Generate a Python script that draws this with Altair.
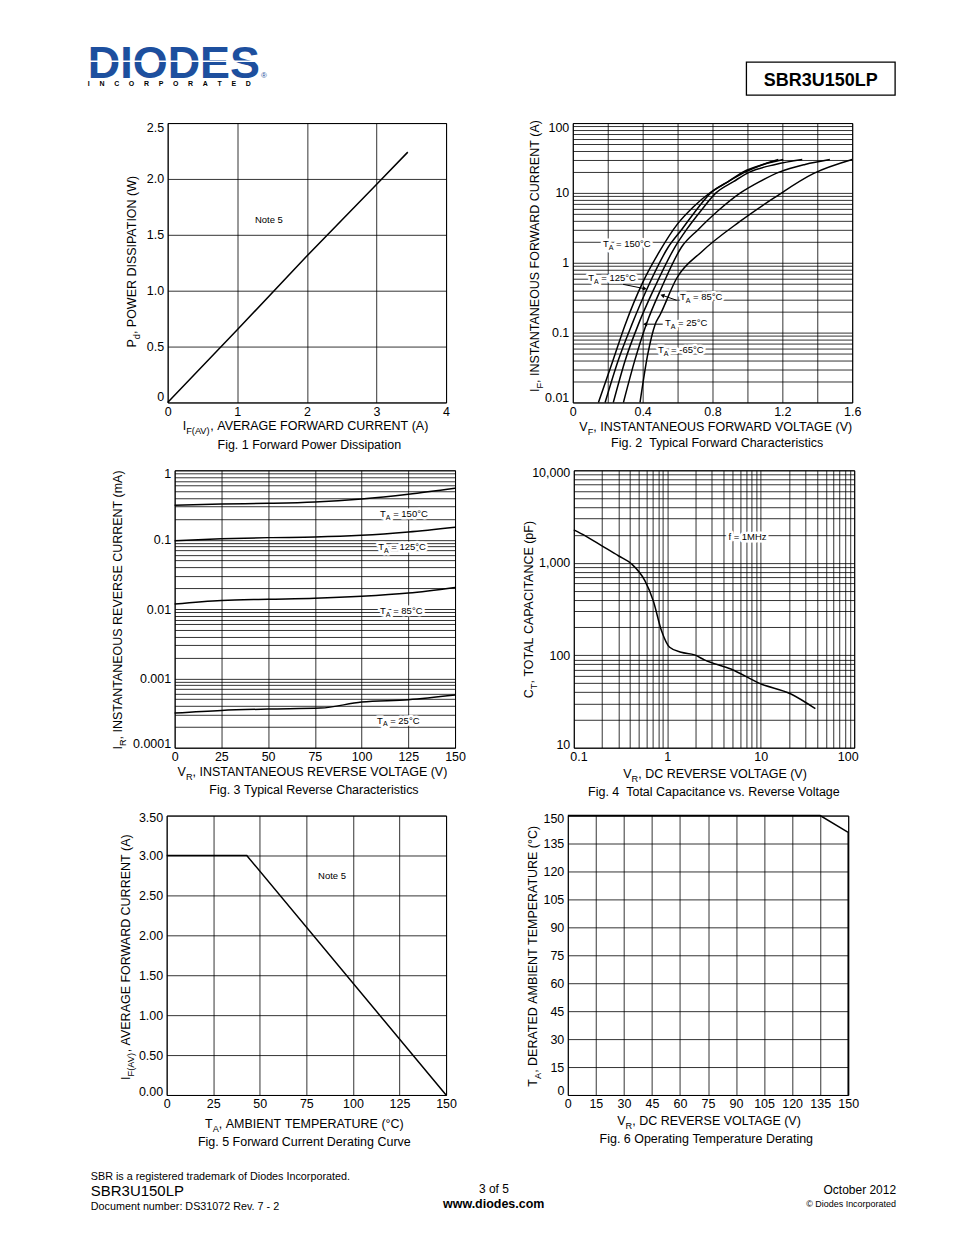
import math
import altair as alt
import pandas as pd

FONT = "Liberation Sans"
TXT = 12.5   # tick labels, axis titles, captions
ANN = 9.5    # in-plot annotations

# ---------------- Fig. 1 : forward power dissipation ----------------
F1_I = [0.0, 1.0, 2.0, 3.0, 3.45]
F1_P = [0.0, 0.65, 1.31, 1.95, 2.24]

# ---------------- Fig. 2 : typical forward characteristics ----------------
F2_V150 = [0.147, 0.23, 0.30, 0.40, 0.50, 0.60, 0.69, 0.78, 0.88, 0.98, 1.09, 1.177]
F2_I150 = [0.01, 0.04, 0.13, 0.52, 1.5, 3.6, 6.3, 9.8, 14, 19.5, 25.5, 30]
F2_V125 = [0.185, 0.26, 0.338, 0.43, 0.547, 0.624, 0.71, 0.79, 0.89, 0.976, 1.09, 1.205]
F2_I125 = [0.01, 0.04, 0.13, 0.45, 1.68, 3.0, 5.8, 10, 14.5, 20, 25.5, 30]
F2_V85 = [0.232, 0.30, 0.375, 0.47, 0.585, 0.652, 0.735, 0.82, 0.92, 1.015, 1.16, 1.314]
F2_I85 = [0.01, 0.04, 0.13, 0.45, 1.68, 3.0, 5.6, 10, 14.5, 20, 25.5, 30]
F2_V25 = [0.29, 0.355, 0.42, 0.51, 0.623, 0.719, 0.83, 0.96, 1.07, 1.186, 1.33, 1.472]
F2_I25 = [0.01, 0.04, 0.13, 0.45, 1.68, 3.0, 5.5, 10, 14.5, 20, 25.5, 30]
F2_VM65 = [0.385, 0.43, 0.471, 0.50, 0.595, 0.74, 0.957, 1.15, 1.38, 1.6]
F2_IM65 = [0.01, 0.05, 0.13, 0.18, 0.6, 1.45, 3.9, 8.4, 19, 30]
F2_LAB_TXT = ["150°C", "125°C", "85°C", "25°C", "-65°C"]
F2_LAB_V = [0.173, 0.088, 0.614, 0.528, 0.488]
F2_LAB_I = [1.85, 0.604, 0.324, 0.138, 0.0566]
F2_ARR_V0 = [0.288, 0.595, 0.515]
F2_ARR_I0 = [0.491, 0.290, 0.132]
F2_ARR_V1 = [0.412, 0.513, 0.414]
F2_ARR_I1 = [0.425, 0.342, 0.132]

# ---------------- Fig. 3 : typical reverse characteristics ----------------
F3_VR = [0, 25, 50, 75, 100, 125, 150]
F3_I150 = [0.313, 0.327, 0.334, 0.349, 0.386, 0.451, 0.55]
F3_I125 = [0.0968, 0.103, 0.107, 0.109, 0.1154, 0.129, 0.151]
F3_I85 = [0.0118, 0.0133, 0.0138, 0.01425, 0.01524, 0.017, 0.0205]
F3_VR25 = [0, 25, 50, 78, 100, 125, 150]
F3_I25 = [0.000316, 0.000345, 0.000361, 0.000373, 0.000456, 0.000492, 0.000575]
F3_LAB_TXT = ["150°C", "125°C", "85°C", "25°C"]
F3_LAB_X = [109.9, 108.9, 109.9, 108.3]
F3_LAB_I = [0.2366, 0.0793, 0.0095, 0.000249]

# ---------------- Fig. 4 : total capacitance ----------------
F4_V = [0.1, 0.133, 0.2, 0.3, 0.416, 0.576, 0.708, 0.868, 1.06, 1.41, 1.96, 2.5, 4.8, 10, 20.8, 38.4]
F4_C = [2270, 1955, 1524, 1191, 969, 640, 389, 184, 122, 107.6, 101, 89, 71, 49, 38.3, 26.4]

# ---------------- Fig. 5 : forward current derating ----------------
F5_T = [0, 43, 150]
F5_I = [3.0, 3.0, 0.0]

# ---------------- Fig. 6 : operating temperature derating ----------------
F6_V = [0, 135, 150, 150]
F6_T = [150, 150, 141, 0]

# ---------------- font metrics (Arial / Liberation Sans) ----------------
REG = {' ': 278, '\u00a0': 278, '(': 333, ')': 333, ',': 278, '-': 333, '.': 278,
       ':': 278, '=': 584, '°': 400, '©': 737, '®': 737}
for _d in "0123456789":
    REG[_d] = 556
REG.update(dict(zip("ABCDEFGHIJKLMNOPQRSTUVWXYZ",
                    [667, 667, 722, 722, 667, 611, 778, 722, 278, 500, 667, 556, 833,
                     722, 778, 667, 778, 722, 667, 611, 722, 667, 944, 667, 667, 611])))
REG.update(dict(zip("abcdefghijklmnopqrstuvwxyz",
                    [556, 556, 500, 556, 556, 278, 556, 556, 222, 222, 500, 222, 833,
                     556, 556, 556, 556, 333, 500, 278, 556, 500, 722, 500, 500, 500])))
BOLD = dict(REG)
BOLD[':'] = 333
BOLD.update(dict(zip("ABCDEFGHIJKLMNOPQRSTUVWXYZ",
                     [722, 722, 722, 722, 667, 611, 778, 722, 278, 556, 722, 611, 833,
                      722, 778, 667, 778, 722, 667, 611, 722, 667, 944, 667, 667, 611])))
BOLD.update(dict(zip("abcdefghijklmnopqrstuvwxyz",
                     [556, 611, 556, 611, 556, 333, 611, 611, 278, 278, 556, 278, 889,
                      611, 611, 611, 611, 389, 556, 333, 611, 556, 778, 556, 556, 500])))


def tw(s, size, bold=False):
    tab = BOLD if bold else REG
    return sum(tab.get(c, 556) for c in s) * size / 1000.0


def parse(s):
    out, buf, i = [], "", 0
    while i < len(s):
        if s.startswith("_{", i):
            if buf:
                out.append((buf, "n"))
                buf = ""
            j = s.index("}", i)
            out.append((s[i + 2:j], "s"))
            i = j + 1
        else:
            buf += s[i]
            i += 1
    if buf:
        out.append((buf, "n"))
    return [(t.replace(" ", "\u00a0"), k) for t, k in out]


ONE = pd.DataFrame({"k": [0]})


def rich(text, enc, data=None, size=TXT, angle=0, anchor="middle", halo=False,
         bold=False, color="black", font=FONT):
    src = ONE if data is None else data
    segs = parse(text)
    sub_size = round(size * 0.74, 2)
    shift = round(size * 0.3, 2)
    base_dy = 0.358 * size
    parts = []
    for t, kind in segs:
        s = sub_size if kind == "s" else size
        parts.append((t, s, base_dy + (shift if kind == "s" else 0.0), tw(t, s, bold)))
    total = sum(p[3] for p in parts)
    cur = {"middle": -total / 2.0, "start": 0.0, "end": -total}[anchor]
    halos, texts = [], []
    for t, s, dy, w in parts:
        vis = t.lstrip("\u00a0")
        lead = tw(t[:len(t) - len(vis)], s, bold)
        vis = vis.rstrip("\u00a0")
        if vis:
            kw = dict(text=vis, fontSize=s, font=font, align="left", baseline="alphabetic",
                      dx=round(cur + lead, 2), dy=round(dy, 2))
            if angle:
                kw["angle"] = angle
            if bold:
                kw["fontWeight"] = "bold"
            if halo:
                halos.append(alt.Chart(src).mark_text(color="white", stroke="white", strokeWidth=5,
                                                      strokeJoin="round", **kw).encode(**enc))
            texts.append(alt.Chart(src).mark_text(color=color, **kw).encode(**enc))
        cur += w
    return halos + texts


def lab_expr(pairs):
    expr = "''"
    for v, t in reversed(pairs):
        if v == 0:
            cond = "abs(datum.value) < 1e-9"
        else:
            cond = f"abs(datum.value / {v!r} - 1) < 1e-6"
        expr = f"({cond}) ? '{t}' : ({expr})"
    return expr


def ax(values, labels, orient, flush=None):
    kw = {}
    if flush is None:
        kw["labelFlush"] = False
    else:
        kw["labelFlush"] = True
        kw["labelFlushOffset"] = flush
    return alt.Axis(values=values, labelExpr=lab_expr(labels), grid=True, gridColor="black",
                    gridWidth=0.8, gridOpacity=1, ticks=False, domain=False, title=None,
                    labelFont=FONT, labelFontSize=TXT, labelColor="black",
                    labelPadding=4 if orient == "y" else 3, labelOverlap=False, **kw)


def log_vals(lo, hi):
    vals = []
    for e in range(lo, hi):
        for m in range(1, 10):
            vals.append(float(f"{m}e{e}"))
    vals.append(float(f"1e{hi}"))
    return vals


def pe(px, py, ox, oy):
    return dict(x=alt.value(round(px - ox, 2)), y=alt.value(round(py - oy, 2)))


class Frame:
    """scales + axes of one panel, shared by every layer that uses data coordinates"""
    def __init__(self, sx, sy, axx, axy):
        self.sx, self.sy, self.axx, self.axy = sx, sy, axx, axy

    def enc(self, xf="x", yf="y"):
        return dict(x=alt.X(f"{xf}:Q", scale=self.sx, axis=self.axx),
                    y=alt.Y(f"{yf}:Q", scale=self.sy, axis=self.axy))


def pt(x, y):
    return pd.DataFrame({"x": [x], "y": [y]})


def curves(series, fr, interp):
    rows = []
    for name, xs, ys in series:
        for i, (a, b) in enumerate(zip(xs, ys)):
            rows.append({"x": a, "y": b, "s": name, "i": i})
    return alt.Chart(pd.DataFrame(rows)).mark_line(
        color="black", strokeWidth=1.5, interpolate=interp).encode(
        detail="s:N", order="i:Q", **fr.enc())


def titles(geom, xt, cap, yt):
    L = []
    L += rich(xt[0], pe(xt[1], xt[2], geom[0], geom[1]))
    L += rich(cap[0], pe(cap[1], cap[2], geom[0], geom[1]))
    L += rich(yt[0], pe(yt[1], yt[2], geom[0], geom[1]), angle=270)
    return L


def band(geom, top, height):
    # invisible rectangle fixing the vertical band that a row occupies in the layout
    return alt.Chart(ONE).mark_rect(opacity=0).encode(
        x=alt.value(8 - geom[0]), x2=alt.value(930 - geom[0]),
        y=alt.value(top - geom[1]), y2=alt.value(top + height - geom[1]))


def panel(geom, layers):
    return alt.layer(*layers).properties(
        width=geom[2], height=geom[3], view=alt.ViewBackground(stroke="black", strokeWidth=1))


def spacer(w):
    return alt.Chart(ONE).mark_point(opacity=0, size=1).encode(
        x=alt.value(w / 2.0), y=alt.value(0.5)).properties(
        width=w, height=1, view=alt.ViewBackground(stroke="transparent"))


def row(gl, figl, gr, figr):
    return alt.hconcat(spacer(gl[0] - 8), figl, spacer(gr[0] - gl[0] - gl[2]), figr,
                       spacing=0, bounds="flush")


# plot-area geometry on the page: left, top, width, height
G1 = (167, 124, 279, 280)
G2 = (573, 124, 280, 280)
G3 = (174, 471, 281, 278)
G4 = (574, 471, 281, 278)
G5 = (166, 816, 280, 280)
G6 = (568, 816, 281, 280)
# vertical bands of the page (top edges) and the layout heights given to them
B1, B2, B3, B4 = 110, 458, 805, 1160
HDR_H, R1_H, R2_H, R3_H, FTR_H = 97, 347, 346, 354, 62
HDR_OY = 10   # page y that the header's local y = 0 maps onto

# ================= header =================
LOGO_BLUE = "#1d4f9e"
LOGO_SIZE = 45
logo_w = tw("DIODES", LOGO_SIZE, True)
hdr = []
hdr.append(alt.Chart(ONE).mark_text(text="DIODES", font=FONT, fontWeight="bold", fontSize=LOGO_SIZE,
                                    color=LOGO_BLUE, align="left", baseline="alphabetic")
           .encode(**pe(87, 78, 8, HDR_OY)))
hdr.append(alt.Chart(ONE).mark_rule(color="white", strokeWidth=1.6).encode(
    x=alt.value(87 - 8), x2=alt.value(87 + logo_w - 8), y=alt.value(61 - HDR_OY)))
hdr.append(alt.Chart(ONE).mark_text(text="®", font=FONT, fontSize=8, color=LOGO_BLUE,
                                    align="left", baseline="alphabetic")
           .encode(**pe(87 + logo_w + 1, 78, 8, HDR_OY)))
hdr.append(alt.Chart(ONE).mark_text(
    text=("\u00a0" * 5).join("INCORPORATED"), font=FONT, fontWeight="bold", fontSize=7,
    color="black", align="left", baseline="alphabetic").encode(**pe(87, 86, 8, HDR_OY)))
hdr.append(alt.Chart(ONE).mark_rect(fillOpacity=0, stroke="black", strokeWidth=1.3).encode(
    x=alt.value(747 - 8), x2=alt.value(896 - 8), y=alt.value(62 - HDR_OY), y2=alt.value(95 - HDR_OY)))
hdr += rich("SBR3U150LP", pe(821.5, 79, 8, HDR_OY), size=18, bold=True)
header = alt.layer(*hdr).properties(width=938, height=HDR_H,
                                    view=alt.ViewBackground(stroke="transparent"))

# ================= footer =================
ftr = []
ftr += rich("SBR is a registered trademark of Diodes Incorporated.", pe(90, 1176, 8, B4),
            size=10.8, anchor="start")
ftr += rich("SBR3U150LP", pe(90, 1191, 8, B4), size=15, anchor="start")
ftr += rich("Document number: DS31072 Rev. 7 - 2", pe(90, 1206, 8, B4), size=10.8, anchor="start")
ftr += rich("3 of 5", pe(494, 1189, 8, B4), size=12)
ftr += rich("www.diodes.com", pe(494, 1204, 8, B4), size=12.5, bold=True)
ftr += rich("October 2012", pe(897, 1190, 8, B4), size=12, anchor="end")
ftr += rich("© Diodes Incorporated", pe(897, 1204, 8, B4), size=9, anchor="end")
footer = alt.layer(*ftr).properties(width=938, height=FTR_H,
                                    view=alt.ViewBackground(stroke="transparent"))

# ================= Fig 1 =================
fr1 = Frame(alt.Scale(domain=[0, 4], nice=False, zero=False),
            alt.Scale(domain=[0, 2.5], nice=False, zero=False),
            ax([0, 1, 2, 3, 4], [(0, "0"), (1, "1"), (2, "2"), (3, "3"), (4, "4")], "x"),
            ax([0, 0.5, 1, 1.5, 2, 2.5],
               [(0, "0"), (0.5, "0.5"), (1, "1.0"), (1.5, "1.5"), (2, "2.0"), (2.5, "2.5")], "y", 1.5))
f1_layers = [band(G1, B1, R1_H), curves([("a", F1_I, F1_P)], fr1, "linear")]
f1_layers += rich("Note 5", fr1.enc(), data=pt(1.455, 1.64), size=ANN)
f1_layers += titles(G1, ("I_{F(AV)}, AVERAGE FORWARD CURRENT (A)", 306, 427),
                    ("Fig. 1 Forward Power Dissipation", 309, 446),
                    ("P_{d}, POWER DISSIPATION (W)", 131, 262))
fig1 = panel(G1, f1_layers)

# ================= Fig 2 =================
fr2 = Frame(alt.Scale(domain=[0, 1.6], nice=False, zero=False),
            alt.Scale(type="log", domain=[0.01, 100], nice=False),
            ax([round(0.2 * k, 1) for k in range(9)],
               [(0, "0"), (0.4, "0.4"), (0.8, "0.8"), (1.2, "1.2"), (1.6, "1.6")], "x"),
            ax(log_vals(-2, 2), [(0.01, "0.01"), (0.1, "0.1"), (1, "1"), (10, "10"), (100, "100")],
               "y", 2))
f2_layers = [curves([("150", F2_V150, F2_I150), ("125", F2_V125, F2_I125), ("85", F2_V85, F2_I85),
                     ("25", F2_V25, F2_I25), ("-65", F2_VM65, F2_IM65)], fr2, "monotone")]
arr = pd.DataFrame({"x": F2_ARR_V0, "y": F2_ARR_I0, "x2": F2_ARR_V1, "y2": F2_ARR_I1})
arr["a"] = [
    math.degrees(math.atan2((v1 - v0) * 175.0, (math.log10(i1) - math.log10(i0)) * 70.0)) % 360
    for v0, i0, v1, i1 in zip(F2_ARR_V0, F2_ARR_I0, F2_ARR_V1, F2_ARR_I1)]
for t, v, i in zip(F2_LAB_TXT, F2_LAB_V, F2_LAB_I):
    f2_layers += rich("T_{A} = " + t, fr2.enc(), data=pt(v, i), size=ANN, anchor="start", halo=True)
f2_layers.append(alt.Chart(arr).mark_rule(color="black", strokeWidth=1).encode(
    x2="x2:Q", y2="y2:Q", **fr2.enc()))
f2_layers.append(alt.Chart(arr).mark_point(shape="triangle-up", filled=True, color="black",
                                           size=22, opacity=1).encode(
    angle=alt.Angle("a:Q", scale=None), **fr2.enc("x2", "y2")))
f2_layers += titles(G2, ("V_{F}, INSTANTANEOUS FORWARD VOLTAGE (V)", 718.5, 428),
                    ("Fig. 2  Typical Forward Characteristics", 718, 444),
                    ("I_{F}, INSTANTANEOUS FORWARD CURRENT (A)", 535, 256))
fig2 = panel(G2, f2_layers)

# ================= Fig 3 =================
t25 = [0, 25, 50, 75, 100, 125, 150]
fr3 = Frame(alt.Scale(domain=[0, 150], nice=False, zero=False),
            alt.Scale(type="log", domain=[0.0001, 1], nice=False),
            ax(t25, [(v, str(v)) for v in t25], "x"),
            ax(log_vals(-4, 0), [(0.0001, "0.0001"), (0.001, "0.001"), (0.01, "0.01"),
                                 (0.1, "0.1"), (1, "1")], "y", 3))
f3_layers = [band(G3, B2, R2_H),
             curves([("150", F3_VR, F3_I150), ("125", F3_VR, F3_I125), ("85", F3_VR, F3_I85),
                     ("25", F3_VR25, F3_I25)], fr3, "monotone")]
for t, x, i in zip(F3_LAB_TXT, F3_LAB_X, F3_LAB_I):
    f3_layers += rich("T_{A} = " + t, fr3.enc(), data=pt(x, i), size=ANN, anchor="start", halo=True)
f3_layers += titles(G3, ("V_{R}, INSTANTANEOUS REVERSE VOLTAGE (V)", 314, 773),
                    ("Fig. 3 Typical Reverse Characteristics", 314, 791),
                    ("I_{R}, INSTANTANEOUS REVERSE CURRENT (mA)", 117, 610))
fig3 = panel(G3, f3_layers)

# ================= Fig 4 =================
fr4 = Frame(alt.Scale(type="log", domain=[0.1, 100], nice=False),
            alt.Scale(type="log", domain=[10, 10000], nice=False),
            ax(log_vals(-1, 2), [(0.1, "0.1"), (1, "1"), (10, "10"), (100, "100")], "x", 4),
            ax(log_vals(1, 4), [(10, "10"), (100, "100"), (1000, "1,000"), (10000, "10,000")],
               "y", 4))
f4_layers = [curves([("c", F4_V, F4_C)], fr4, "monotone")]
f4_layers += rich("f = 1MHz", fr4.enc(), data=pt(7.22, 1905), size=ANN, halo=True)
f4_layers += titles(G4, ("V_{R}, DC REVERSE VOLTAGE (V)", 716.5, 775),
                    ("Fig. 4  Total Capacitance vs. Reverse Voltage", 715.5, 793),
                    ("C_{T}, TOTAL CAPACITANCE (pF)", 529, 609))
fig4 = panel(G4, f4_layers)

# ================= Fig 5 =================
i05 = [0, 0.5, 1, 1.5, 2, 2.5, 3, 3.5]
fr5 = Frame(alt.Scale(domain=[0, 150], nice=False, zero=False),
            alt.Scale(domain=[0, 3.5], nice=False, zero=False),
            ax(t25, [(v, str(v)) for v in t25], "x"),
            ax(i05, [(v, f"{v:.2f}") for v in i05], "y", 4))
f5_layers = [band(G5, B3, R3_H), curves([("a", F5_T, F5_I)], fr5, "linear")]
f5_layers += rich("Note 5", fr5.enc(), data=pt(88.8, 2.75), size=ANN)
f5_layers += titles(G5, ("T_{A}, AMBIENT TEMPERATURE (°C)", 304.5, 1125),
                    ("Fig. 5 Forward Current Derating Curve", 304, 1143),
                    ("I_{F(AV)}, AVERAGE FORWARD CURRENT (A)", 125, 957))
fig5 = panel(G5, f5_layers)

# ================= Fig 6 =================
t15 = list(range(0, 151, 15))
fr6 = Frame(alt.Scale(domain=[0, 150], nice=False, zero=False),
            alt.Scale(domain=[0, 150], nice=False, zero=False),
            ax(t15, [(v, str(v)) for v in t15], "x"),
            ax(t15, [(v, str(v)) for v in t15], "y", 3))
f6_layers = [curves([("a", F6_V, F6_T)], fr6, "linear")]
f6_layers += titles(G6, ("V_{R}, DC REVERSE VOLTAGE (V)", 710.5, 1122),
                    ("Fig. 6 Operating Temperature Derating", 707.5, 1140),
                    ("T_{A}, DERATED AMBIENT TEMPERATURE (°C)", 533, 956))
fig6 = panel(G6, f6_layers)

chart = alt.vconcat(
    header,
    row(G1, fig1, G2, fig2),
    row(G3, fig3, G4, fig4),
    row(G5, fig5, G6, fig6),
    footer,
    spacing=0,
).properties(padding=0, background="white").configure_view(stroke="transparent")

chart.save("out.html", embed_options={"renderer": "svg", "actions": False})
